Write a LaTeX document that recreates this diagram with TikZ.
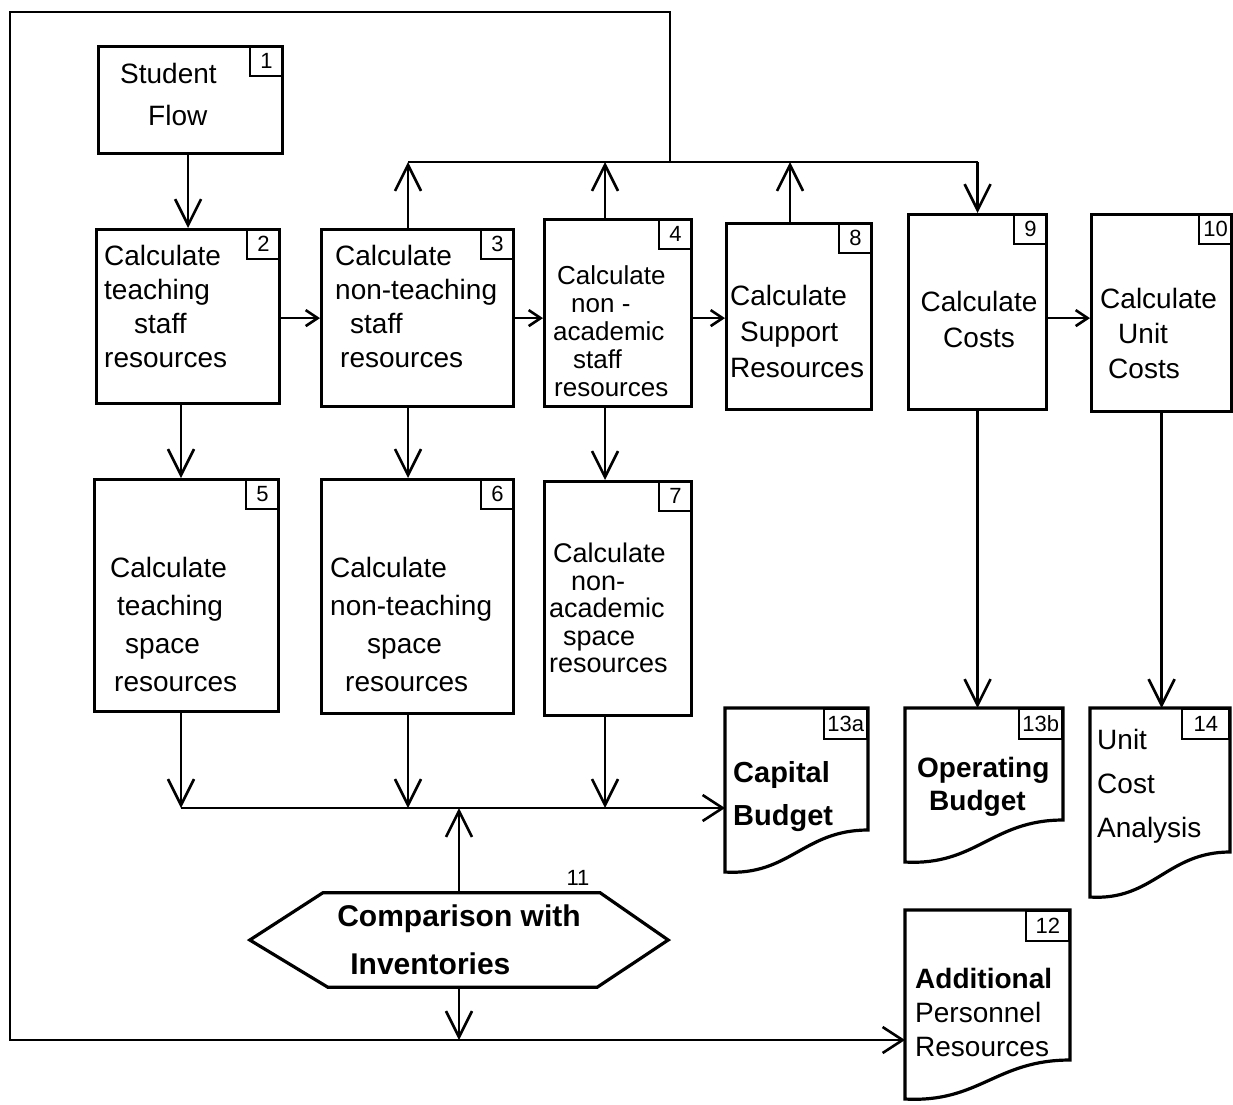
\documentclass[tikz,border=0pt]{standalone}
\usepackage{fontspec}
\setmainfont{Liberation Sans}
\usetikzlibrary{arrows.meta,calc}

% process box: name, x1, y1, x2, y2, number
\newcommand\procbox[6]{%
  \node[proc, minimum width={#4-#2}, minimum height={#5-#3}] (#1) at (#2,#3) {};
  \node[numbox] (#1n) at (#1.north east) {#6};}

% document box with wavy lower edge: name, x1, y1, x2, y right corner, y left corner, number, number width
\newcommand\docbox[8]{%
  \node[inner sep=0, anchor=north west, minimum width={#4-#2}, minimum height={#5-#3}] (#1) at (#2,#3) {};
  \draw[boxline] (#2,#3) -- (#4,#3) -- (#4,#5)
     .. controls ({#2+0.55*(#4-#2)},#5) and ({#2+0.45*(#4-#2)},{#6+4}) .. (#2,#6) -- cycle;
  \node[numbox, minimum width=#8] (#1n) at (#1.north east) {#7};}

\begin{document}
\begin{tikzpicture}[x=1pt,y=-1pt,
  boxline/.style={line width=3.2pt, line join=miter},
  proc/.style={draw, boxline, inner sep=0, anchor=north west},
  numbox/.style={draw, line width=2.2pt, inner sep=0, anchor=north east,
    font=\fontsize{22}{22}\selectfont, minimum width=33pt, minimum height=30pt},
  txt/.style={inner sep=0, align=left, anchor=west, font=\fontsize{28}{34}\selectfont},
  wire/.style={line width=2.6pt},
  arr/.style={wire, -{Straight Barb[length=26pt,width=26pt]}},
  sarr/.style={wire, -{Straight Barb[length=12pt,width=16pt]}},
  marr/.style={wire, -{Straight Barb[length=20pt,width=26pt]}},
]
\useasboundingbox (0,0) rectangle (1233,1104);

% process boxes
\procbox{b1}{97}{45}{281}{152}{1}
\procbox{b2}{95}{228}{278}{402}{2}
\procbox{b3}{320}{228}{512}{405}{3}
\procbox{b4}{543}{218}{690}{405}{4}
\procbox{b8}{725}{222}{870}{408}{8}
\procbox{b9}{907}{213}{1045}{408}{9}
\procbox{b10}{1090}{213}{1230}{410}{10}
\procbox{b5}{93}{478}{277}{710}{5}
\procbox{b6}{320}{478}{512}{712}{6}
\procbox{b7}{543}{480}{690}{714}{7}

% output documents
\docbox{d13a}{725}{708}{868}{830}{872}{13a}{43pt}
\docbox{d13b}{905}{708}{1063}{820}{862}{13b}{43pt}
\docbox{d14}{1090}{708}{1230}{852}{897}{14}{47pt}
\docbox{d12}{905}{910}{1070}{1060}{1099}{12}{43pt}

% box texts
\node[txt, font=\fontsize{28}{42}\selectfont] (t1) at (120,94) {Student\\\hspace{28pt}Flow};
\node[txt] (t2) at (104,306) {Calculate\\teaching\\\hspace{30pt}staff\\resources};
\node[txt] (t3) at (335,306) {Calculate\\non-teaching\\\hspace{15pt}staff\\\hspace{5pt}resources};
\node[txt, font=\fontsize{26}{28}\selectfont] (t4) at (553,331)
  {\hspace{4pt}Calculate\\\hspace{18pt}non -\\academic\\\hspace{20pt}staff\\\hspace{1pt}resources};
\node[txt, font=\fontsize{28}{36}\selectfont] (t8) at (730,331) {Calculate\\\hspace{10pt}Support\\Resources};
\node[txt, align=center, anchor=center, font=\fontsize{28}{36}\selectfont] (t9) at (979,319) {Calculate\\Costs};
\node[txt, font=\fontsize{28}{35}\selectfont] (t10) at (1100,333) {Calculate\\\hspace{18pt}Unit\\\hspace{8pt}Costs};
\node[txt, font=\fontsize{28}{38}\selectfont] (t5) at (110,624)
  {Calculate\\\hspace{7pt}teaching\\\hspace{15pt}space\\\hspace{4pt}resources};
\node[txt, font=\fontsize{28}{38}\selectfont] (t6) at (330,624)
  {Calculate\\non-teaching\\\hspace{37pt}space\\\hspace{15pt}resources};
\node[txt, font=\fontsize{27}{27.5}\selectfont] (t7) at (549,608)
  {\hspace{4pt}Calculate\\\hspace{22pt}non-\\academic\\\hspace{14pt}space\\resources};
\node[txt, font=\bfseries\fontsize{29}{43}\selectfont] (t13a) at (733,797) {Capital\\Budget};
\node[txt, font=\bfseries\fontsize{28}{33}\selectfont] (t13b) at (917,787) {Operating\\\hspace{12pt}Budget};
\node[txt, font=\fontsize{28}{44}\selectfont] (t14) at (1097,786) {Unit\\Cost\\Analysis};
\node[txt] (t12) at (915,1012) {\textbf{Additional}\\Personnel\\Resources};

% comparison hexagon
\node[inner sep=0, align=left, minimum width=418pt, minimum height=94pt,
  font=\bfseries\fontsize{30}{48}\selectfont] (hex) at (459,940)
  {Comparison with\\\hspace{13pt}Inventories};
\draw[boxline] (hex.west) -- ($(hex.north west)+(73,0)$) -- ($(hex.north east)+(-68,0)$)
  -- (hex.east) -- ($(hex.south east)+(-71,0)$) -- ($(hex.south west)+(78,0)$) -- cycle;
\node[font=\fontsize{22}{22}\selectfont, inner sep=0] (n11) at (578,878) {11};

% junction points
\coordinate (bus) at (670,162);
\coordinate (tl) at (10,12);
\coordinate (bl) at (10,1040);
\coordinate (k1) at (181,808);
\coordinate (k2) at (408,808);
\coordinate (k3) at (605,808);
\coordinate (k4) at (790,162);

% connectors
\draw[arr] (b1.south -| b2.north) -- (b2.north);
\draw[sarr] (b2.east |- b3.east) -- (b3.west);
\draw[sarr] (b3.east) -- (b4.west |- b3.east);
\draw[sarr] (b4.east |- b3.east) -- (b8.west |- b3.east);
\draw[sarr] (b9.east |- b3.east) -- (b10.west |- b3.east);

\draw[arr] (b3.north -| k2) -- (bus -| k2);
\draw[arr] (b4.north -| k3) -- (bus -| k3);
\draw[arr] (b8.north -| k4) -- (k4);
\draw[wire] (bus -| k2) -- (bus -| b9.north);
\draw[arr] (bus -| b9.north) -- (b9.north);

\draw[arr] (b2.south -| k1) -- (b5.north -| k1);
\draw[arr] (b3.south -| k2) -- (b6.north -| k2);
\draw[arr] (b4.south -| k3) -- (b7.north -| k3);
\draw[arr] (b5.south -| k1) -- (k1);
\draw[arr] (b6.south -| k2) -- (k2);
\draw[arr] (b7.south -| k3) -- (k3);
\draw[marr] (k1) -- (k1 -| d13a.west);

\draw[arr] (b9.south) -- (b9.south |- d13b.north);
\draw[arr] (b10.south) -- (b10.south |- d14.north);

\draw[arr] (hex.north) -- (hex.north |- k1);
\draw[arr] (hex.south) -- (hex.south |- bl);
\draw[marr, line join=miter] (bus) -- (bus |- tl) -- (tl) -- (bl) -- (bl -| d12.west);
\end{tikzpicture}
\end{document}
